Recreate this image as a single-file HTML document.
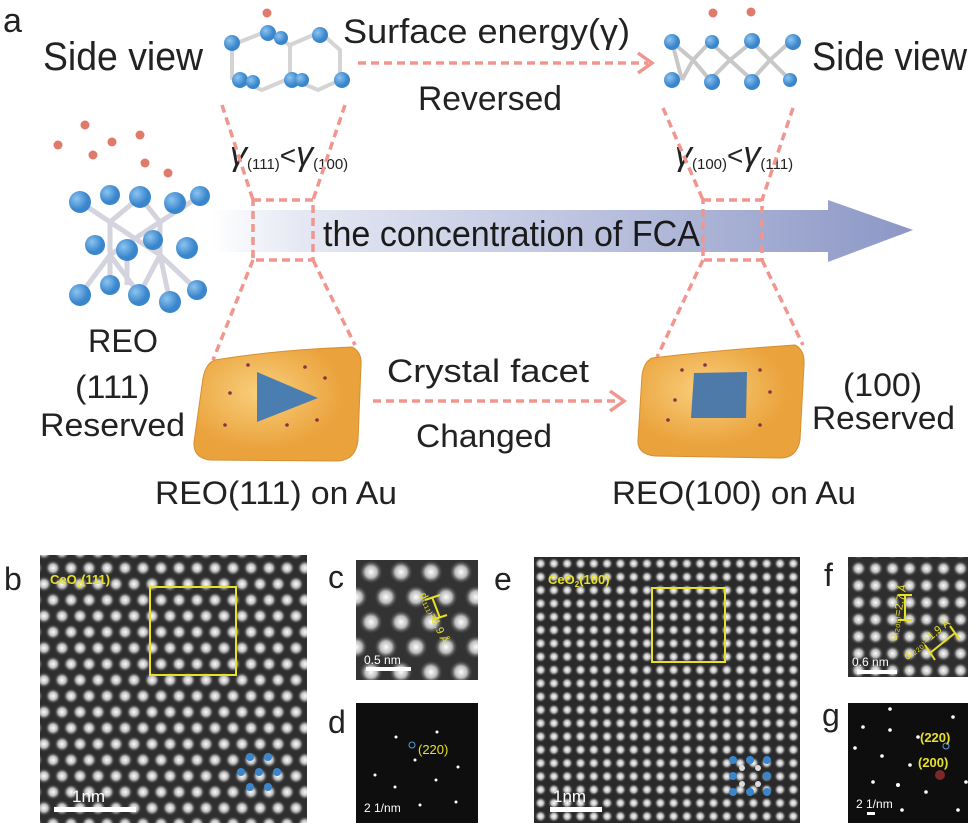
<!DOCTYPE html>
<html><head><meta charset="utf-8"><style>
body{margin:0;background:#fff;width:975px;height:827px;overflow:hidden;font-family:"Liberation Sans",sans-serif}
</style></head><body>
<svg width="975" height="827" viewBox="0 0 975 827" xmlns="http://www.w3.org/2000/svg" font-family="Liberation Sans, sans-serif">
<defs>
<linearGradient id="arr" x1="0" x2="1"><stop offset="0" stop-color="#fff"/><stop offset="0.12" stop-color="#e6e9f4"/><stop offset="1" stop-color="#8c97c6"/></linearGradient>
<radialGradient id="dot"><stop offset="0" stop-color="#fff"/><stop offset="0.5" stop-color="#bbb"/><stop offset="1" stop-color="#333" stop-opacity="0"/></radialGradient>
<radialGradient id="gold" cx="0.4" cy="0.4"><stop offset="0" stop-color="#f9cf7c"/><stop offset="1" stop-color="#eaa23c"/></radialGradient>
<radialGradient id="ball" cx="0.35" cy="0.35"><stop offset="0" stop-color="#8cc4f0"/><stop offset="1" stop-color="#3a86cc"/></radialGradient>
<pattern id="hex" width="18" height="32" patternUnits="userSpaceOnUse" x="44" y="560">
<rect width="18" height="32" fill="#2e2e2e"/>
<circle cx="9" cy="8" r="8" fill="url(#dot)"/>
<circle cx="0" cy="24" r="8" fill="url(#dot)"/><circle cx="18" cy="24" r="8" fill="url(#dot)"/>
</pattern>
<pattern id="sq" width="13.3" height="13.3" patternUnits="userSpaceOnUse" x="534" y="557">
<rect width="13.3" height="13.3" fill="#2a2a2a"/>
<circle cx="6.6" cy="6.6" r="6" fill="url(#dot)"/>
</pattern>
<pattern id="hexc" width="30" height="50" patternUnits="userSpaceOnUse" x="356" y="560">
<rect width="30" height="50" fill="#333"/>
<circle cx="15" cy="12" r="12" fill="url(#dot)"/>
<circle cx="0" cy="37" r="12" fill="url(#dot)"/><circle cx="30" cy="37" r="12" fill="url(#dot)"/>
</pattern>
<pattern id="sqf" width="17" height="17" patternUnits="userSpaceOnUse" x="850" y="560">
<rect width="17" height="17" fill="#2e2e2e"/>
<circle cx="8.5" cy="8.5" r="8" fill="url(#dot)"/>
</pattern>
</defs>

<text x="3" y="32" font-size="34" fill="#222">a</text>
<text x="43" y="70" font-size="40" fill="#222" textLength="160" lengthAdjust="spacingAndGlyphs">Side  view</text>
<text x="812" y="70" font-size="40" fill="#222" textLength="155" lengthAdjust="spacingAndGlyphs">Side  view</text>
<text x="343" y="43" font-size="34" fill="#222" textLength="287" lengthAdjust="spacingAndGlyphs">Surface energy(γ)</text>
<text x="418" y="110" font-size="34" fill="#222" textLength="144" lengthAdjust="spacingAndGlyphs">Reversed</text>
<line x1="358" y1="63" x2="648" y2="63" stroke="#f0968e" stroke-width="3.5" stroke-dasharray="8,5"/>
<polyline points="638,53 652,63 638,73" fill="none" stroke="#f0968e" stroke-width="3.5"/>

<g stroke="#d4d4d4" stroke-width="4" fill="none">
<path d="M232 45 L265 32 L290 45 L290 78 L262 90 L232 78Z M290 45 L320 32 L340 50 L340 80 L318 90 L290 78"/>
</g>
<g fill="url(#ball)">
<circle cx="232" cy="43" r="8"/><circle cx="268" cy="33" r="8"/><circle cx="281" cy="38" r="7"/><circle cx="320" cy="35" r="8"/>
<circle cx="240" cy="80" r="8"/><circle cx="253" cy="82" r="7"/><circle cx="292" cy="80" r="8"/><circle cx="302" cy="80" r="7"/><circle cx="342" cy="80" r="8"/>
</g>
<circle cx="267" cy="13" r="4.5" fill="#e07a6a"/>
<g stroke="#c8c8c8" stroke-width="4" fill="none"><path d="M672 42 L682 80 M672 42 L693 60 L710 42 L730 60 L752 42 L770 60 L790 42 M682 80 L693 60 L710 80 L730 60 L752 80 L770 60 L790 80"/></g>
<g fill="url(#ball)">
<circle cx="672" cy="42" r="8"/><circle cx="712" cy="42" r="7"/><circle cx="752" cy="41" r="8"/><circle cx="793" cy="42" r="8"/>
<circle cx="672" cy="80" r="8"/><circle cx="712" cy="82" r="8"/><circle cx="752" cy="82" r="8"/><circle cx="790" cy="80" r="7"/>
</g>
<circle cx="713" cy="13" r="4.5" fill="#e07a6a"/><circle cx="751" cy="12" r="4.5" fill="#e07a6a"/>

<text x="230" y="165" font-size="34" fill="#222" font-style="italic">γ<tspan font-size="15" dy="4" font-style="normal">(111)</tspan><tspan dy="-4" font-style="normal" font-size="28">&lt;</tspan>γ<tspan font-size="15" dy="4" font-style="normal">(100)</tspan></text>
<text x="675" y="165" font-size="34" fill="#222" font-style="italic">γ<tspan font-size="15" dy="4" font-style="normal">(100)</tspan><tspan dy="-4" font-style="normal" font-size="28">&lt;</tspan>γ<tspan font-size="15" dy="4" font-style="normal">(111)</tspan></text>

<path d="M212 210 L828 210 L828 200 L913 230 L828 262 L828 252 L212 252Z" fill="url(#arr)"/>
<text x="323" y="246" font-size="36" fill="#1a1a1a" textLength="377" lengthAdjust="spacingAndGlyphs">the concentration of FCA</text>

<g stroke="#d4d4de" stroke-width="5" fill="none">
<path d="M80 202 L110 222 L140 197 L160 222 L200 196 M110 222 L110 255 M160 222 L160 255 M110 222 L160 255 M160 222 L110 255 M110 255 L80 295 M110 255 L140 295 M160 255 L139 295 M160 255 L197 290 M110 285 L110 255 M170 302 L160 255 M127 250 L127 285"/>
</g>
<g fill="url(#ball)">
<circle cx="80" cy="202" r="11"/><circle cx="110" cy="195" r="10"/><circle cx="140" cy="197" r="11"/><circle cx="175" cy="203" r="11"/><circle cx="200" cy="196" r="10"/>
<circle cx="95" cy="245" r="10"/><circle cx="127" cy="250" r="11"/><circle cx="153" cy="240" r="10"/><circle cx="187" cy="248" r="11"/>
<circle cx="80" cy="295" r="11"/><circle cx="110" cy="285" r="10"/><circle cx="139" cy="295" r="11"/><circle cx="170" cy="302" r="11"/><circle cx="197" cy="290" r="10"/>
</g>
<g fill="#e07a6a"><circle cx="85" cy="125" r="4.5"/><circle cx="58" cy="145" r="4.5"/><circle cx="112" cy="142" r="4.5"/><circle cx="93" cy="155" r="4.5"/><circle cx="140" cy="135" r="4.5"/><circle cx="145" cy="163" r="4.5"/><circle cx="168" cy="173" r="4.5"/></g>

<g stroke="#f0968e" stroke-width="3.5" stroke-dasharray="8,5" fill="none">
<path d="M222 105 L253 200 M345 105 L313 200 M253 260 L213 360 M313 260 L355 345"/>
<rect x="253" y="200" width="60" height="60"/>
<path d="M663 108 L703 200 M793 108 L762 200 M703 260 L657 357 M762 260 L803 345"/>
<rect x="703" y="200" width="59" height="60"/>
<line x1="373" y1="401" x2="620" y2="401"/>
</g>
<polyline points="610,391 624,401 610,411" fill="none" stroke="#f0968e" stroke-width="3.5"/>

<path d="M215 360 Q275 350 352 347 Q362 352 361 365 L358 440 Q356 460 338 461 L210 460 Q193 458 194 442 L203 378 Q206 363 215 360Z" fill="url(#gold)" stroke="#d68f30"/>
<path d="M257 372 L318 398 L257 422Z" fill="#4a7db0"/>
<path d="M652 358 Q720 350 795 345 Q805 350 804 365 L800 440 Q797 458 780 458 L655 456 Q637 454 638 440 L642 375 Q644 362 652 358Z" fill="url(#gold)" stroke="#d68f30"/>
<path d="M694 373 L747 372 L746 418 L691 418Z" fill="#4d7aa8"/>
<g fill="#8a3048"><circle cx="248" cy="365" r="1.8"/><circle cx="305" cy="367" r="1.8"/><circle cx="230" cy="393" r="1.8"/><circle cx="325" cy="378" r="1.8"/><circle cx="225" cy="425" r="1.8"/><circle cx="317" cy="420" r="1.8"/><circle cx="287" cy="425" r="1.8"/><circle cx="682" cy="370" r="1.8"/><circle cx="760" cy="370" r="1.8"/><circle cx="675" cy="400" r="1.8"/><circle cx="770" cy="392" r="1.8"/><circle cx="760" cy="425" r="1.8"/><circle cx="668" cy="420" r="1.8"/><circle cx="705" cy="365" r="1.8"/></g>

<g font-size="32" fill="#222">
<text x="88" y="352" textLength="70" lengthAdjust="spacingAndGlyphs">REO</text>
<text x="75" y="398" textLength="75" lengthAdjust="spacingAndGlyphs">(111)</text>
<text x="40" y="436" textLength="145" lengthAdjust="spacingAndGlyphs">Reserved</text>
<text x="387" y="382" textLength="202" lengthAdjust="spacingAndGlyphs">Crystal facet</text>
<text x="416" y="447" textLength="136" lengthAdjust="spacingAndGlyphs">Changed</text>
<text x="843" y="396" textLength="79" lengthAdjust="spacingAndGlyphs">(100)</text>
<text x="812" y="429" textLength="143" lengthAdjust="spacingAndGlyphs">Reserved</text>
<text x="155" y="504" textLength="242" lengthAdjust="spacingAndGlyphs">REO(111) on Au</text>
<text x="612" y="504" textLength="244" lengthAdjust="spacingAndGlyphs">REO(100) on Au</text>
</g>

<g font-size="32" fill="#222">
<text x="4" y="590">b</text><text x="328" y="588">c</text><text x="328" y="733">d</text>
<text x="494" y="590">e</text><text x="824" y="586">f</text><text x="822" y="726">g</text>
</g>
<rect x="40" y="555" width="267" height="268" fill="url(#hex)"/>
<rect x="150" y="587" width="86" height="88" fill="none" stroke="#e6e02a" stroke-width="2"/>
<text x="50" y="584" font-size="13" font-weight="bold" fill="#e6e02a">CeO<tspan font-size="8" dy="3">2</tspan><tspan dy="-3">(111)</tspan></text>
<rect x="54" y="807" width="82" height="5" fill="#fff"/>
<text x="72" y="802" font-size="17" fill="#fff">1nm</text>
<g fill="#3a86cc"><circle cx="250" cy="757" r="4"/><circle cx="268" cy="757" r="4"/><circle cx="241" cy="772" r="4"/><circle cx="277" cy="772" r="4"/><circle cx="250" cy="787" r="4"/><circle cx="268" cy="787" r="4"/><circle cx="259" cy="772" r="4"/></g>

<rect x="356" y="560" width="122" height="120" fill="url(#hexc)"/>
<path d="M425 600 L440 595 M432 597 L440 618 M432 620 L447 615" stroke="#e6e02a" stroke-width="2"/>
<text x="400" y="595" font-size="11" fill="#e6e02a" transform="rotate(65 410 610)">d₍₁₁₁₎=1.9 Å</text>
<rect x="366" y="667" width="45" height="4" fill="#fff"/>
<text x="364" y="664" font-size="12" fill="#fff">0.5 nm</text>

<rect x="356" y="703" width="122" height="120" fill="#0e0e0e"/>
<g fill="#fff"><circle cx="396" cy="737" r="1.5"/><circle cx="437" cy="732" r="1.5"/><circle cx="415" cy="760" r="1.5"/><circle cx="395" cy="787" r="1.5"/><circle cx="436" cy="780" r="1.5"/><circle cx="458" cy="767" r="1.5"/><circle cx="375" cy="775" r="1.5"/><circle cx="420" cy="805" r="1.5"/><circle cx="456" cy="802" r="1.5"/></g>
<circle cx="412" cy="745" r="3" fill="none" stroke="#5a9ad8"/>
<text x="418" y="754" font-size="13" fill="#e6e02a">(220)</text>
<text x="364" y="812" font-size="12" fill="#fff">2 1/nm</text>

<rect x="534" y="557" width="266" height="266" fill="url(#sq)"/>
<rect x="652" y="588" width="73" height="74" fill="none" stroke="#e6e02a" stroke-width="2"/>
<text x="548" y="584" font-size="13" font-weight="bold" fill="#e6e02a">CeO<tspan font-size="8" dy="3">2</tspan><tspan dy="-3">(100)</tspan></text>
<rect x="550" y="807" width="52" height="5" fill="#fff"/>
<text x="553" y="802" font-size="17" fill="#fff">1nm</text>
<g fill="#3a86cc"><circle cx="733" cy="760" r="4"/><circle cx="750" cy="760" r="4"/><circle cx="767" cy="760" r="4"/><circle cx="733" cy="776" r="4"/><circle cx="767" cy="776" r="4"/><circle cx="733" cy="792" r="4"/><circle cx="750" cy="792" r="4"/><circle cx="767" cy="792" r="4"/></g>
<g fill="#ddd"><circle cx="742" cy="768" r="3"/><circle cx="758" cy="768" r="3"/><circle cx="742" cy="784" r="3"/><circle cx="758" cy="784" r="3"/></g>

<rect x="848" y="557" width="120" height="120" fill="url(#sqf)"/>
<path d="M898 595 L912 595 M905 595 L905 620 M898 620 L912 620 M930 653 L955 633 M925 645 L935 660 M950 626 L960 640" stroke="#e6e02a" stroke-width="2"/>
<text x="862" y="640" font-size="11" fill="#e6e02a" transform="rotate(-80 880 620)">d₍₂₀₀₎=2.7 Å</text>
<text x="898" y="655" font-size="11" fill="#e6e02a" transform="rotate(-40 910 645)">d₍₂₂₀₎=1.9 Å</text>
<rect x="857" y="670" width="40" height="4" fill="#fff"/>
<text x="852" y="666" font-size="12" fill="#fff">0.6 nm</text>

<rect x="848" y="703" width="120" height="120" fill="#0e0e0e"/>
<g fill="#fff"><circle cx="863" cy="727" r="1.8"/><circle cx="890" cy="709" r="1.8"/><circle cx="953" cy="717" r="1.8"/><circle cx="890" cy="730" r="1.8"/><circle cx="918" cy="737" r="1.8"/><circle cx="855" cy="748" r="1.8"/><circle cx="882" cy="756" r="1.8"/><circle cx="910" cy="765" r="1.8"/><circle cx="898" cy="785" r="2"/><circle cx="873" cy="782" r="1.8"/><circle cx="926" cy="792" r="1.8"/><circle cx="902" cy="810" r="1.8"/><circle cx="958" cy="810" r="1.8"/><circle cx="966" cy="782" r="1.8"/></g>
<circle cx="946" cy="746" r="3" fill="none" stroke="#5a9ad8"/>
<circle cx="940" cy="775" r="5" fill="#a33" opacity="0.7"/>
<text x="920" y="742" font-size="13" font-weight="bold" fill="#e6e02a">(220)</text>
<text x="918" y="767" font-size="13" font-weight="bold" fill="#e6e02a">(200)</text>
<text x="856" y="808" font-size="12" fill="#fff">2 1/nm</text>
<rect x="867" y="812" width="8" height="3" fill="#fff"/>
</svg>
</body></html>
